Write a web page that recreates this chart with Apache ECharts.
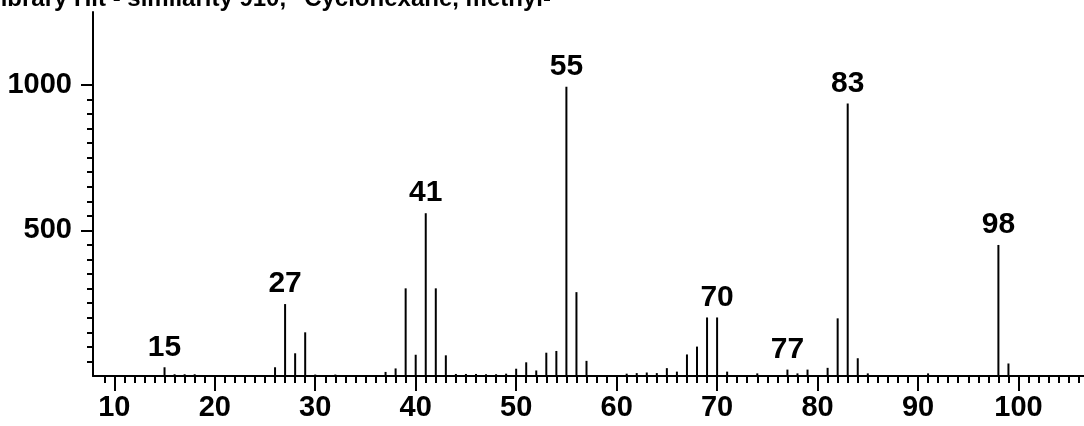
<!DOCTYPE html>
<html>
<head>
<meta charset="utf-8">
<script src="https://cdn.jsdelivr.net/npm/echarts@6/dist/echarts.min.js"></script>
<style>
html,body{margin:0;padding:0;background:#fff;}
#chart{width:1084px;height:426px;}
</style>
</head>
<body>
<div id="chart"></div>
<script>
const titleText = 'Library Hit - similarity 910, "Cyclohexane, methyl-"';
const mz = [15,16,17,18,26,27,28,29,30,32,37,38,39,40,41,42,43,44,45,46,47,48,49,50,51,52,53,54,55,56,57,61,62,63,64,65,66,67,68,69,70,71,74,77,78,79,81,82,83,84,85,91,98,99];
const intensity = [30,6,6,6,30,247,78,150,5,5,14,26,301,73,559,301,71,7,7,7,6,6,8,25,47,19,80,86,993,288,52,8,10,12,10,27,15,74,101,201,201,15,9,22,9,22,28,198,936,61,9,9,450,43];
const labeledPeaks = [15,27,41,55,70,77,83,98];
const xMajorTicks = [10,20,30,40,50,60,70,80,90,100];
const xMinorTicks = [9,11,12,13,14,15,16,17,18,19,21,22,23,24,25,26,27,28,29,31,32,33,34,35,36,37,38,39,41,42,43,44,45,46,47,48,49,51,52,53,54,55,56,57,58,59,61,62,63,64,65,66,67,68,69,71,72,73,74,75,76,77,78,79,81,82,83,84,85,86,87,88,89,91,92,93,94,95,96,97,98,99,101,102,103,104,105,106];
const yMajorTicks = [500,1000];
const yMinorTicks = [50,100,150,200,250,300,350,400,450,550,600,650,700,750,800,850,900,950];

const FONT = '"Liberation Sans", Arial, sans-serif';
const data = mz.map((m, i) => ({
  value: [m, intensity[i]],
  label: { show: labeledPeaks.indexOf(m) >= 0 }
}));

const chart = echarts.init(document.getElementById('chart'), null, {renderer: 'canvas'});
const xBase = {
  type: 'value', min: 7.88, max: 106.52, position: 'bottom',
  splitLine: {show: false}
};
const yBase = {
  type: 'value', min: 0, max: 1250, position: 'left',
  splitLine: {show: false}
};
chart.setOption({
  animation: false,
  backgroundColor: '#fff',
  grid: {left: 93, right: 0, top: 12, bottom: 50, containLabel: false, outerBoundsMode: 'none'},
  graphic: [{
    type: 'text', left: -14, top: -13,
    style: {text: titleText, fill: '#000', font: 'bold 24px ' + FONT}
  }],
  xAxis: [
    Object.assign({}, xBase, {
      axisLine: {show: true, onZero: false, lineStyle: {color: '#000', width: 2}},
      axisTick: {show: true, customValues: xMajorTicks, length: 15, lineStyle: {color: '#000', width: 2}},
      axisLabel: {show: true, customValues: xMajorTicks, margin: 17, color: '#000',
        fontSize: 29, fontWeight: 'bold', fontFamily: FONT, formatter: v => String(v)}
    }),
    Object.assign({}, xBase, {
      axisLine: {show: false, onZero: false},
      axisTick: {show: true, customValues: xMinorTicks, length: 7, lineStyle: {color: '#000', width: 2}},
      axisLabel: {show: false}
    })
  ],
  yAxis: [
    Object.assign({}, yBase, {
      axisLine: {show: true, lineStyle: {color: '#000', width: 2}},
      axisTick: {show: true, customValues: yMajorTicks, length: 12, lineStyle: {color: '#000', width: 2}},
      axisLabel: {show: true, customValues: yMajorTicks, margin: 21, color: '#000',
        fontSize: 29, fontWeight: 'bold', fontFamily: FONT, formatter: v => String(v)}
    }),
    Object.assign({}, yBase, {
      axisLine: {show: false},
      axisTick: {show: true, customValues: yMinorTicks, length: 6, lineStyle: {color: '#000', width: 2}},
      axisLabel: {show: false}
    })
  ],
  series: [{
    type: 'bar',
    xAxisIndex: 0, yAxisIndex: 0,
    barWidth: 2,
    itemStyle: {color: '#000'},
    label: {
      position: 'top', distance: 5, color: '#000',
      fontSize: 30, fontWeight: 'bold', fontFamily: FONT,
      formatter: p => String(p.value[0])
    },
    data: data
  }]
});
</script>
</body>
</html>
